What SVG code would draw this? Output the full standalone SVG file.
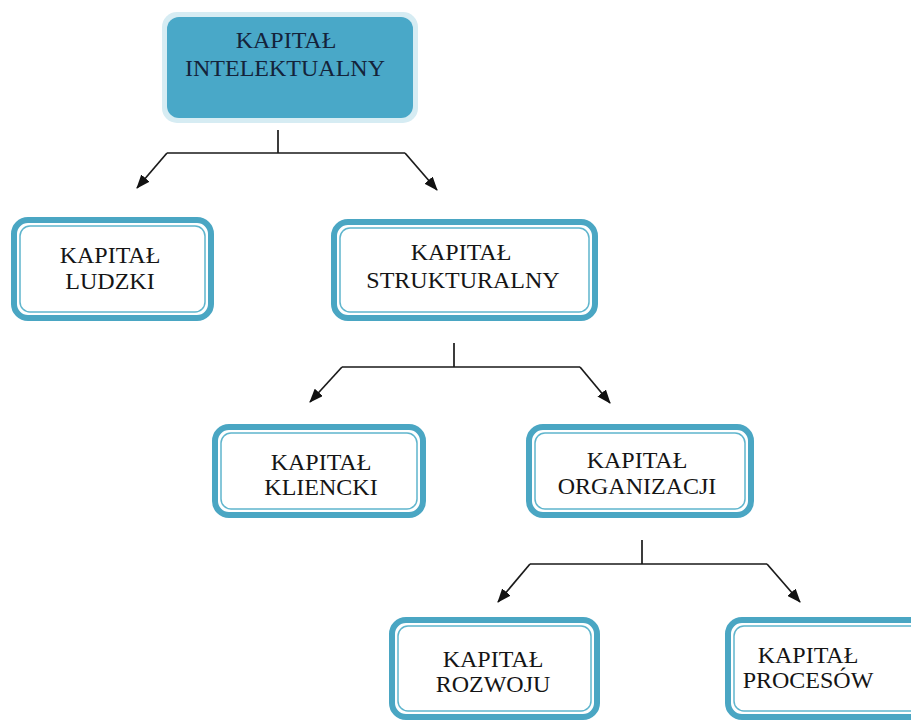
<svg xmlns="http://www.w3.org/2000/svg" width="911" height="720" viewBox="0 0 911 720">
<style>
.outer{fill:#ffffff;stroke:#4aa6c3;stroke-width:6}
.inner{fill:none;stroke:#5fb5cd;stroke-width:1.5}
text{font-family:'Liberation Serif','DejaVu Serif','Times New Roman',serif;font-size:24px;text-anchor:middle}
.t{fill:#151515}
.tt{fill:#14233a}
.c{fill:none;stroke:#1a1a1a;stroke-width:1.7}
</style>
<defs>
<marker id="ah" viewBox="0 0 14 11" refX="13" refY="5.5" markerWidth="14" markerHeight="11" orient="auto" markerUnits="userSpaceOnUse">
<path d="M0,0 L14,5.5 L0,11 z" fill="#111"/>
</marker>
</defs>
<rect width="911" height="720" fill="#ffffff"/>
<g id="connectors">
<path class="c" d="M278,130 V153 M167,153 H405 M454,343 V367 M342,367 H580 M642,540 V564 M530,564 H767"/>
<path class="c" d="M167,153 L137,188" marker-end="url(#ah)"/>
<path class="c" d="M405,153 L437,190" marker-end="url(#ah)"/>
<path class="c" d="M342,367 L310,402" marker-end="url(#ah)"/>
<path class="c" d="M580,367 L610,403" marker-end="url(#ah)"/>
<path class="c" d="M530,564 L498,602" marker-end="url(#ah)"/>
<path class="c" d="M767,564 L800,602" marker-end="url(#ah)"/>
</g>
<g id="intelektualny">
<rect x="162" y="12" width="256" height="111" rx="15" fill="#d6ecf3"/>
<rect x="167" y="17" width="246" height="101" rx="12" fill="#49a8c8"/>
<text class="tt" x="286" y="48">KAPITAŁ</text>
<text class="tt" x="285" y="76">INTELEKTUALNY</text>
</g>
<g id="ludzki">
<rect class="outer" x="14" y="220" width="197" height="98" rx="14"/>
<rect class="inner" x="20" y="226" width="185" height="86" rx="10"/>
<text class="t" x="110" y="263">KAPITAŁ</text>
<text class="t" x="110" y="289">LUDZKI</text>
</g>
<g id="strukturalny">
<rect class="outer" x="334" y="222" width="261" height="96" rx="14"/>
<rect class="inner" x="340" y="228" width="249" height="84" rx="10"/>
<text class="t" x="461" y="260">KAPITAŁ</text>
<text class="t" x="463" y="288">STRUKTURALNY</text>
</g>
<g id="kliencki">
<rect class="outer" x="215" y="427" width="208" height="88" rx="14"/>
<rect class="inner" x="221" y="433" width="196" height="76" rx="10"/>
<text class="t" x="321" y="470">KAPITAŁ</text>
<text class="t" x="321" y="495">KLIENCKI</text>
</g>
<g id="organizacji">
<rect class="outer" x="529" y="427" width="222" height="88" rx="14"/>
<rect class="inner" x="535" y="433" width="210" height="76" rx="10"/>
<text class="t" x="637" y="468">KAPITAŁ</text>
<text class="t" x="637" y="494">ORGANIZACJI</text>
</g>
<g id="rozwoju">
<rect class="outer" x="392" y="620" width="205" height="97" rx="14"/>
<rect class="inner" x="398" y="626" width="193" height="85" rx="10"/>
<text class="t" x="493" y="667">KAPITAŁ</text>
<text class="t" x="493" y="692">ROZWOJU</text>
</g>
<g id="procesow">
<rect class="outer" x="728" y="620" width="200" height="97" rx="14"/>
<rect class="inner" x="734" y="626" width="188" height="85" rx="10"/>
<text class="t" x="808" y="663">KAPITAŁ</text>
<text class="t" x="808" y="688">PROCESÓW</text>
</g>
</svg>
